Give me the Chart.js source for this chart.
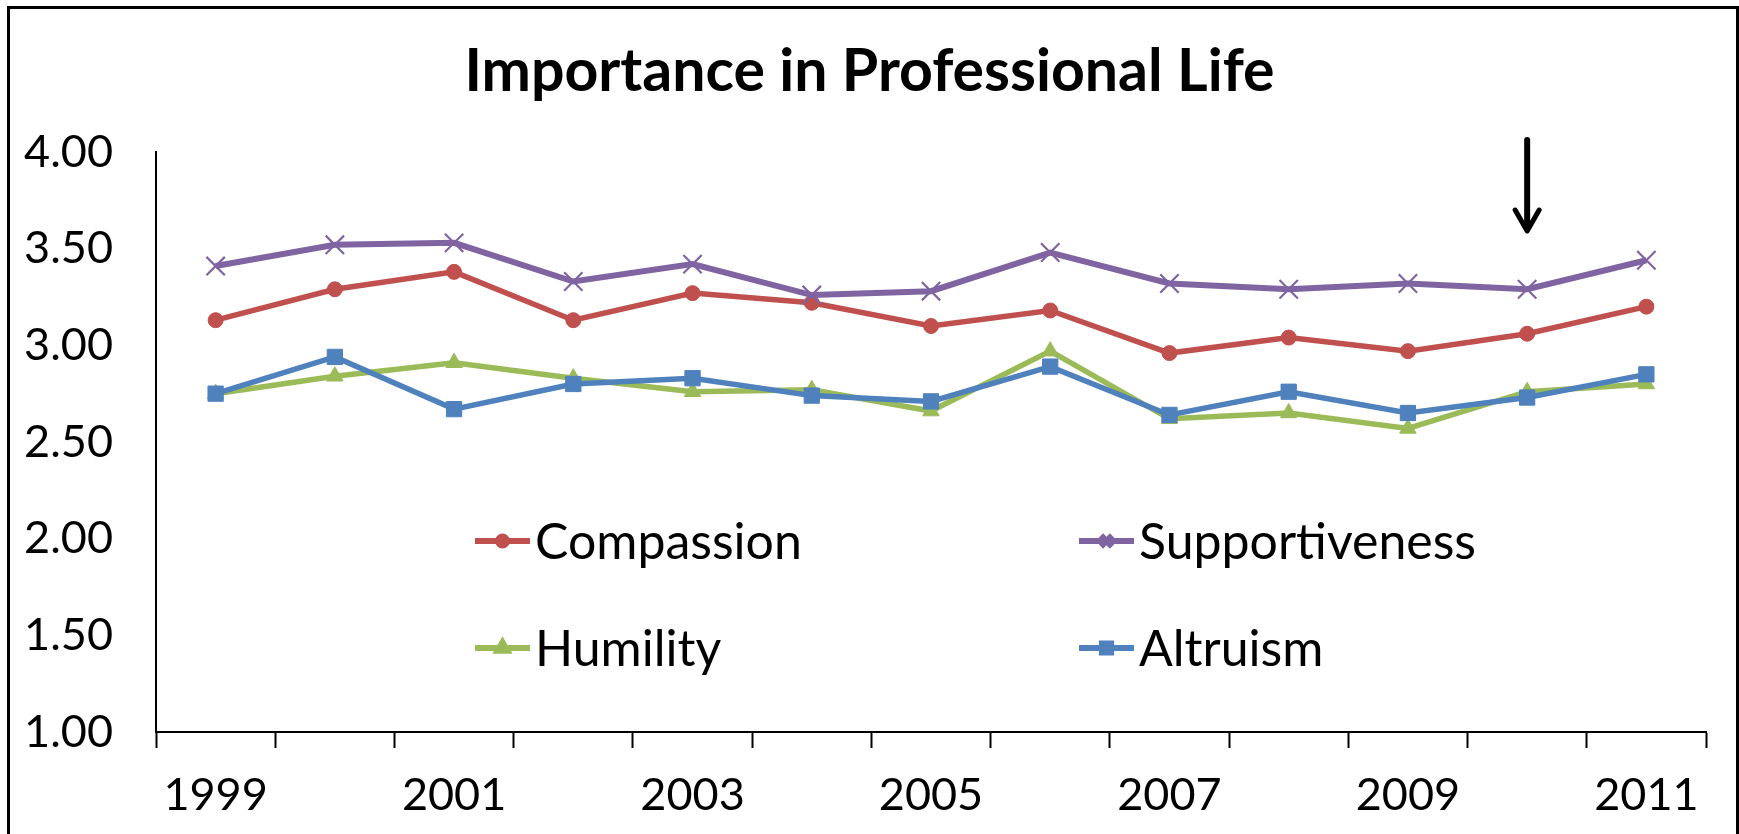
<!DOCTYPE html>
<html>
<head>
<meta charset="utf-8">
<title>Importance in Professional Life</title>
<script src="https://cdn.jsdelivr.net/npm/chart.js@4.4.0/dist/chart.umd.min.js"></script>
<style>
  html, body { margin: 0; padding: 0; background: #fff; }
  #wrap { position: relative; width: 1739px; height: 834px; overflow: hidden; }
  #frame { position: absolute; left: 7px; top: 6px; width: 1726px; height: 900px; border: 3px solid #000; pointer-events: none; }
  canvas { position: absolute; left: 0; top: 0; }
</style>
</head>
<body>
<div id="wrap">
  <canvas id="chart" width="1739" height="834"></canvas>
  <div id="frame"></div>
</div>
<script>
// ---- data ----
const chartTitle = "Importance in Professional Life";
const years = ["1999", "2000", "2001", "2002", "2003", "2004", "2005", "2006", "2007", "2008", "2009", "2010", "2011"];
const compassion     = [3.13, 3.29, 3.38, 3.13, 3.27, 3.22, 3.10, 3.18, 2.96, 3.04, 2.97, 3.06, 3.20];
const supportiveness = [3.41, 3.52, 3.53, 3.33, 3.42, 3.26, 3.28, 3.48, 3.32, 3.29, 3.32, 3.29, 3.44];
const humility       = [2.75, 2.84, 2.91, 2.83, 2.76, 2.77, 2.66, 2.97, 2.62, 2.65, 2.57, 2.76, 2.80];
const altruism       = [2.75, 2.94, 2.67, 2.80, 2.83, 2.74, 2.71, 2.89, 2.64, 2.76, 2.65, 2.73, 2.85];
const yTicks = [1.0, 1.5, 2.0, 2.5, 3.0, 3.5, 4.0];
const markedYear = "2010";   // the arrow points at this year

const RED = "#C0504D", PURPLE = "#8064A2", GREEN = "#9BBB59", BLUE = "#4F81BD";
const FONT = "Lato, 'Open Sans', sans-serif";

Chart.defaults.font.family = FONT;
Chart.defaults.color = "#000";

function series(label, data, color, style, radius, width, order) {
    return {
        label: label,
        data: data,
        borderColor: color,
        backgroundColor: color,
        borderWidth: width,
        pointStyle: style,
        pointRadius: radius,
        pointHoverRadius: radius,
        pointBackgroundColor: color,
        pointBorderColor: color,
        pointBorderWidth: style === "crossRot" ? 2.2 : 1,
        tension: 0,
        order: order
    };
}

// title centred on the whole page (the built-in one centres on the padded box)
const pageTitle = {
    id: "pageTitle",
    afterDraw(chart) {
        const ctx = chart.ctx;
        ctx.save();
        ctx.fillStyle = "#000";
        ctx.font = "bold 59px " + FONT;
        ctx.textAlign = "center";
        ctx.textBaseline = "middle";
        ctx.fillText(chartTitle, chart.width / 2, 72);
        ctx.restore();
    }
};

// legend drawn inside the plot, two columns like the original
const insideLegend = {
    id: "insideLegend",
    afterDatasetsDraw(chart) {
        const ctx = chart.ctx;
        const spots = [[475, 541], [1079, 541], [475, 648], [1079, 648]];
        ctx.save();
        chart.data.datasets.forEach((ds, k) => {
            const [x, y] = spots[k];
            ctx.strokeStyle = ds.borderColor;
            ctx.lineWidth = 6;
            ctx.beginPath();
            ctx.moveTo(x, y);
            ctx.lineTo(x + 55, y);
            ctx.stroke();
            ctx.fillStyle = ds.borderColor;
            Chart.helpers.drawPoint(ctx, {
                pointStyle: ds.pointStyle,
                radius: ds.pointRadius * 0.6,
                rotation: 0,
                borderWidth: ds.pointBorderWidth
            }, x + 27.5, y);
            ctx.fillStyle = "#000";
            ctx.font = "50px " + FONT;
            ctx.textBaseline = "middle";
            ctx.textAlign = "left";
            ctx.fillText(ds.label, x + 60, y + 2);
        });
        ctx.restore();
    }
};

// the black down arrow above one year
const arrow = {
    id: "arrow",
    afterDraw(chart) {
        const ctx = chart.ctx;
        const x = chart.scales.x.getPixelForValue(years.indexOf(markedYear));
        ctx.save();
        ctx.strokeStyle = "#000";
        ctx.lineCap = "round";
        ctx.lineJoin = "round";
        ctx.lineWidth = 6;
        ctx.beginPath();
        ctx.moveTo(x, 140);
        ctx.lineTo(x, 228);
        ctx.stroke();
        ctx.lineWidth = 5;
        ctx.beginPath();
        ctx.moveTo(x - 12, 210);
        ctx.lineTo(x, 231);
        ctx.lineTo(x + 12, 210);
        ctx.stroke();
        ctx.restore();
    }
};

new Chart(document.getElementById("chart"), {
    type: "line",
    data: {
        labels: years,
        datasets: [
            series("Compassion", compassion, RED, "circle", 7.5, 5.5, 3),
            series("Supportiveness", supportiveness, PURPLE, "crossRot", 13, 6, 2),
            series("Humility", humility, GREEN, "triangle", 9.5, 5.5, 1),
            series("Altruism", altruism, BLUE, "rect", 10.8, 5.5, 0)
        ]
    },
    options: {
        responsive: false,
        animation: false,
        devicePixelRatio: 1,
        layout: { padding: { left: 0, top: 152, right: 33, bottom: 12 } },
        plugins: {
            legend: { display: false },
            tooltip: { enabled: false },
            title: { display: false }
        },
        scales: {
            x: {
                offset: true,
                grid: {
                    offset: true,
                    drawOnChartArea: false,
                    drawTicks: true,
                    tickLength: 16,
                    tickWidth: 2,
                    tickColor: "#000"
                },
                border: { display: true, color: "#000", width: 2 },
                ticks: {
                    autoSkip: false,
                    maxRotation: 0,
                    padding: 20,
                    font: { size: 45, family: FONT },
                    callback: (v, i) => (i % 2 === 0 ? years[i] : "")
                },
                afterFit: (scale) => { scale.height = 90; }
            },
            y: {
                min: yTicks[0],
                max: yTicks[yTicks.length - 1],
                grid: { drawOnChartArea: false, drawTicks: false },
                border: { display: true, color: "#000", width: 2 },
                afterBuildTicks: (scale) => { scale.ticks = yTicks.map(v => ({ value: v })); },
                ticks: {
                    padding: 43,
                    font: { size: 45, family: FONT },
                    callback: (v) => Number(v).toFixed(2)
                },
                afterFit: (scale) => { scale.width = 156; }
            }
        }
    },
    plugins: [pageTitle, insideLegend, arrow]
});
</script>
</body>
</html>
